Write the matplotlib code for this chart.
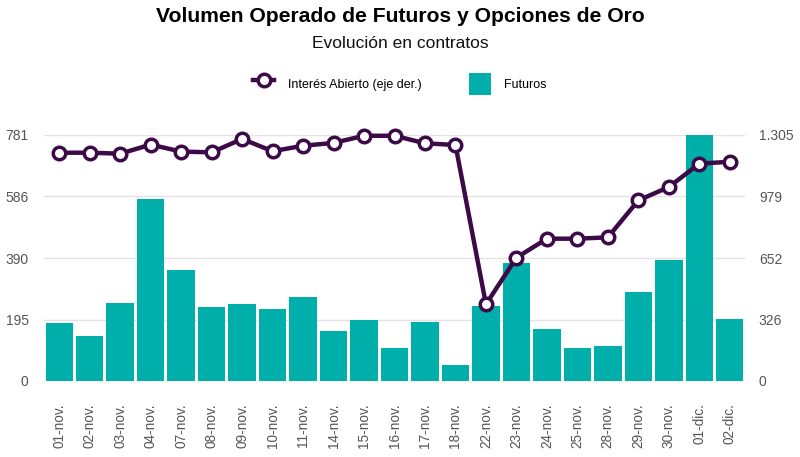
import matplotlib
matplotlib.use("Agg")
import matplotlib.pyplot as plt
from matplotlib.lines import Line2D
from matplotlib.patches import Patch

plt.rcParams['font.family'] = ['Liberation Sans', 'DejaVu Sans']

dates = ["01-nov.", "02-nov.", "03-nov.", "04-nov.", "07-nov.", "08-nov.", "09-nov.",
         "10-nov.", "11-nov.", "14-nov.", "15-nov.", "16-nov.", "17-nov.", "18-nov.",
         "22-nov.", "23-nov.", "24-nov.", "25-nov.", "28-nov.", "29-nov.", "30-nov.",
         "01-dic.", "02-dic."]
futuros = [183, 143, 249, 578, 353, 235, 245, 228, 267, 159, 194, 106, 186, 51,
           237, 376, 165, 106, 112, 284, 383, 781, 198]
interes_abierto = [1211, 1211, 1206, 1254, 1217, 1213, 1284, 1219, 1248, 1263, 1301, 1301,
                   1261, 1252, 407, 654, 755, 755, 762, 958, 1029, 1153, 1163]
left_ticks = [0, 195, 390, 586, 781]
right_ticks = [0, 326, 652, 979, 1305]
right_labels = ["0", "326", "652", "979", "1.305"]

bar_color = "#00AFAA"
line_color = "#3D0A48"
tick_color = "#555555"

fig = plt.figure(figsize=(8, 4.57), dpi=100)
ax = fig.add_axes([44/800, 1-381/457, (745-44)/800, (381-135)/457])
x = list(range(len(dates)))
ax.bar(x, futuros, width=0.9, color=bar_color, zorder=2)
ax.set_ylim(0, 781)
ax.set_xlim(-0.5, 22.5)
ax.set_yticks(left_ticks)
ax.set_yticklabels([str(t) for t in left_ticks])
ax.grid(axis='y', color="#E3E3E3", linewidth=1, zorder=0)
ax.set_xticks(x)
ax.set_xticklabels(dates, rotation=90)
for s in ax.spines.values():
    s.set_visible(False)
ax.tick_params(axis='both', length=0, colors=tick_color, labelsize=10)
ax.tick_params(axis='x', pad=16, labelsize=9.8)
ax.tick_params(axis='y', pad=11)

ax2 = ax.twinx()
ax2.plot(x, interes_abierto, color=line_color, linewidth=3.2, marker='o',
         markersize=9, markerfacecolor='white', markeredgecolor=line_color,
         markeredgewidth=2.5, zorder=5, clip_on=False)
ax2.set_ylim(0, 1305)
ax2.set_yticks(right_ticks)
ax2.set_yticklabels(right_labels)
for s in ax2.spines.values():
    s.set_visible(False)
ax2.tick_params(axis='y', length=0, colors=tick_color, labelsize=10, pad=10)

fig.text(0.5, 1-17/457, "Volumen Operado de Futuros y Opciones de Oro", ha='center', va='center',
         fontsize=15.2, fontweight='bold', color='black')
fig.text(0.5, 1-44/457, "Evolución en contratos", ha='center', va='center',
         fontsize=12.5, color='#111111')

handles = [Line2D([0], [0], color=line_color, linewidth=3.2, marker='o', markersize=9,
                  markerfacecolor='white', markeredgecolor=line_color, markeredgewidth=2.5),
           Patch(facecolor=bar_color)]
fig.legend(handles, ["Interés Abierto (eje der.)", "Futuros"], loc='center',
           bbox_to_anchor=(0.5, 1-84/457), ncol=2, frameon=False, fontsize=9,
           handlelength=1.7, handleheight=2.4, columnspacing=3.8, handletextpad=1.1)

fig.savefig("out.png", dpi=100, facecolor='white')
